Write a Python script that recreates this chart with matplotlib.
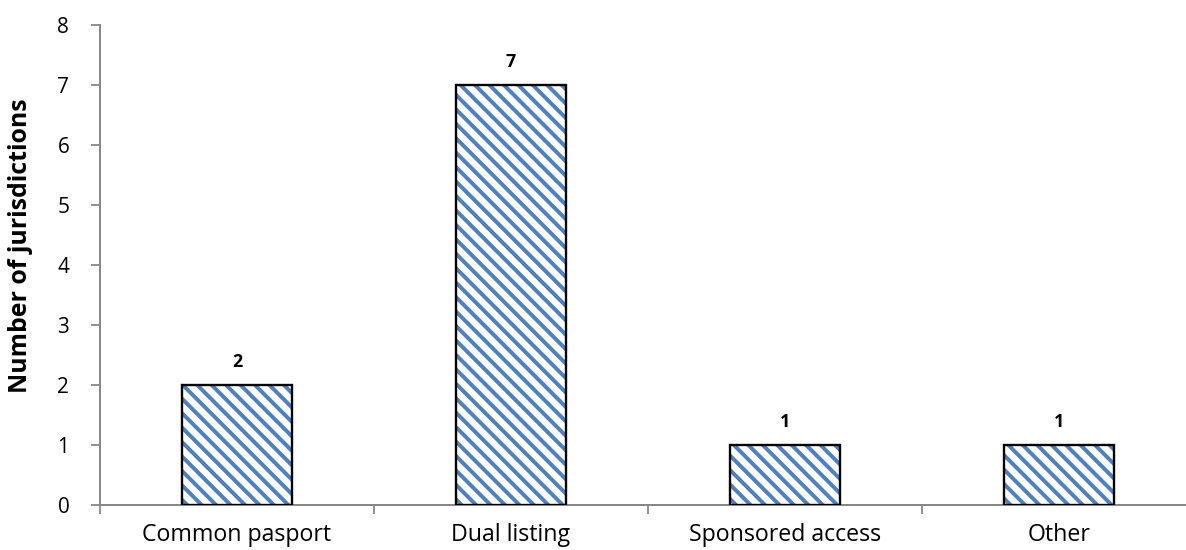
import matplotlib
matplotlib.use("Agg")
import matplotlib.pyplot as plt

categories = ["Common pasport", "Dual listing", "Sponsored access", "Other"]
values = [2, 7, 1, 1]
y_ticks = [0, 1, 2, 3, 4, 5, 6, 7, 8]
y_label = "Number of jurisdictions"

DPI = 130
plt.rcParams['font.family'] = ['Open Sans', 'DejaVu Sans']
plt.rcParams['hatch.linewidth'] = 2.2

fig = plt.figure(figsize=(1186 / DPI, 550 / DPI), dpi=DPI)
ax = fig.add_axes([100 / 1186, 45 / 550, 1096 / 1186, 480 / 550])

x = list(range(len(categories)))
# hatch fill (blue stripes)
ax.bar(x, values, width=0.4, color='white', edgecolor='#4F81BD',
       linewidth=0, hatch='\\\\\\', zorder=3)
# black outline
bars = ax.bar(x, values, width=0.4, fill=False, edgecolor='black',
              linewidth=1.3, zorder=4)
ax.bar_label(bars, labels=[str(v) for v in values], padding=8,
             fontsize=9.8, fontweight='bold')

ax.set_xlim(-0.5, len(categories) - 0.5)
ax.set_ylim(0, 8)
ax.set_yticks(y_ticks)
ax.set_yticklabels([str(t) for t in y_ticks], fontsize=11.5)
ax.tick_params(axis='y', length=5, width=1, color='#888888', pad=12)

ax.set_xticks([i - 0.5 for i in range(len(categories) + 1)])
ax.set_xticklabels([])
ax.tick_params(axis='x', which='major', length=5, width=1, color='#888888')
ax.set_xticks(x, minor=True)
ax.set_xticklabels(categories, minor=True, fontsize=12.8)
ax.tick_params(axis='x', which='minor', length=0, pad=10)

for s in ['top', 'right']:
    ax.spines[s].set_visible(False)
for s in ['left', 'bottom']:
    ax.spines[s].set_color('#888888')
    ax.spines[s].set_linewidth(1.1)

ax.set_ylabel(y_label, fontsize=13.8, fontweight='bold')
ax.yaxis.set_label_coords(-0.061, 0.54)

fig.savefig("out.png", dpi=DPI)
